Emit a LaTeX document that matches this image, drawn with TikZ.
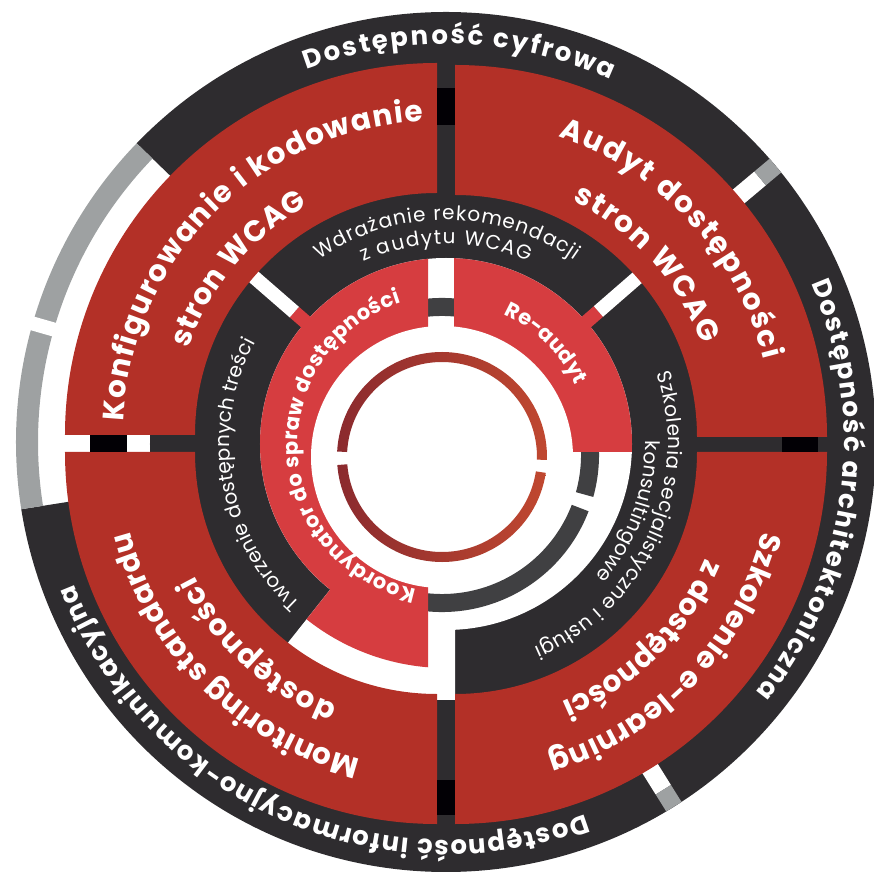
\documentclass[tikz,border=0pt]{standalone}
\usepackage{fontspec}
\setmainfont{Poppins}
\usetikzlibrary{decorations.text}
\definecolor{dk}{HTML}{2E2C2F}
\definecolor{rq}{HTML}{B33027}
\definecolor{lr}{HTML}{D63D40}
\definecolor{gy}{HTML}{9EA1A2}
\definecolor{bk}{HTML}{020005}
\definecolor{ig}{HTML}{404042}
\definecolor{gL}{HTML}{8B2A2E}
\definecolor{gR}{HTML}{C04830}
\newcommand\fOut{\fontsize{26}{30}\selectfont\bfseries}
\newcommand\fRed{\fontsize{29.5}{33}\selectfont\bfseries}
\newcommand\fMid{\fontsize{20}{24}\selectfont}
\newcommand\fIn{\fontsize{21}{24}\selectfont\bfseries}
\newcommand\sect[4]{(#1:#3) arc[start angle=#1,end angle=#2,radius=#3] -- (#2:#4) arc[start angle=#2,end angle=#1,radius=#4] -- cycle}
\newcommand\arctext[6]{\path[decorate,decoration={text along path,text align=fit to path,text color=white,text={|#5|#6}}] #1 ++(#3:#2) arc[start angle=#3,end angle=#4,radius=#2];}
\begin{document}
\begin{tikzpicture}[x=1pt,y=1pt]
\useasboundingbox (-446,-430) rectangle (427,444);
% outer dark ring
\fill[dk] (0,2) -- ++(136:430) arc[start angle=136,end angle=-171,radius=430] -- cycle;
\begin{scope}[shift={(0,2)}]
  \fill[gy] \sect{136}{189}{408}{430};
  \begin{scope}[rotate=164]\fill[white] (400,-7) rectangle (440,7);\end{scope}
  \foreach \a in {40,-58}{\begin{scope}[rotate=\a]
    \fill[white] (370,-9) rectangle (410,9);
    \fill[gy] (410,-9) rectangle (430,9);
  \end{scope}}
\end{scope}
% middle dark disc
\fill[dk] (0,0) circle[radius=296];
\fill[white] (0,0) circle[radius=186];
\fill[white] (0,0) -- (231.5:256) arc[start angle=231.5,end angle=268,radius=256] -- (9,-256) -- (9,0) -- cycle;
\foreach \a/\ri in {139/201,41/202}{\begin{scope}[rotate=\a]
  \fill[lr] (185,-7) rectangle (\ri,7);
  \fill[white] (\ri,-7) rectangle (262,7);
\end{scope}}
% red quadrants
\begin{scope}[shift={(-9,9)}]\fill[rq] \sect{90}{180}{242}{372};\end{scope}
\begin{scope}[shift={(9,7)}]\fill[rq] \sect{0}{90}{242}{372};\end{scope}
\begin{scope}[shift={(9,-8)}]\fill[rq] \sect{-90}{0}{242}{372};\end{scope}
\begin{scope}[shift={(-9,-8)}]\fill[rq] \sect{180}{270}{242}{372};\end{scope}
% black blocks
\fill[bk] (-9,319) rectangle (9,356);
\fill[bk] (336,-8) rectangle (372,7);
\fill[bk] (-9,-336) rectangle (9,-371);
\fill[bk] (-356,-8) rectangle (-319,9);
% inner grey ring
\begin{scope}[shift={(-4,-11)}]\fill[ig] \sect{-15.5}{339}{139}{157};\end{scope}
% Koordynator piece
\begin{scope}
  \clip (-500,-500) rectangle (-18,500);
  \fill[lr] (0,0) -- (90:186) arc[start angle=90,end angle=231.5,radius=186] -- (231.5:224) arc[start angle=231.5,end angle=270,radius=224] -- cycle;
\end{scope}
% Re-audyt piece
\begin{scope}
  \clip (8,-8) rectangle (300,300);
  \fill[lr] (0,0) circle[radius=186];
\end{scope}
\fill[white] (-4,-13) circle[radius=131];
% gradient ring
\begin{scope}[shift={(-4,-13)}]
  \shade[left color=gL,right color=gR] \sect{-1.6}{177}{95}{105};
  \shade[left color=gL,right color=gR] \sect{184.4}{351.3}{95}{105};
\end{scope}
% outer texts
\arctext{(0,2)}{398}{110.5}{65.5}{\fOut}{Dostępność cyfrowa}
\arctext{(0,2)}{398}{23.5}{-39}{\fOut}{Dostępność architektoniczna}
\arctext{(0,2)}{398}{-69.5}{-159}{\fOut}{Dostępność informacyjno-komunikacyjna}
% red texts
\arctext{(-9,9)}{314}{177.5}{92.5}{\fRed}{Konfigurowanie i kodowanie}
\arctext{(-9,9)}{263}{160.8}{119.4}{\fRed}{stron WCAG}
\arctext{(9,7)}{318}{71}{14}{\fRed}{Audyt dostępności}
\arctext{(9,7)}{264}{63.5}{20.5}{\fRed}{stron WCAG}
\arctext{(9,-8)}{318}{-14.5}{-73}{\fRed}{Szkolenie e-learning}
\arctext{(9,-8)}{272}{-23}{-66}{\fRed}{z dostępności}
\arctext{(-9,-8)}{317}{-104}{-165.5}{\fRed}{Monitoring standardu}
\arctext{(-9,-8)}{272}{-111.5}{-153}{\fRed}{dostępności}
% middle ring texts
\arctext{(0,0)}{224}{124.5}{55}{\fMid}{Wdrażanie rekomendacji}
\arctext{(0,0)}{200}{114.5}{65.5}{\fMid}{z audytu WCAG}
\arctext{(0,0)}{222}{18.5}{-66.5}{\fMid}{Szkolenia secjalistyczne i usługi}
\arctext{(0,0)}{199}{1}{-41.5}{\fMid}{konsultingowe}
\arctext{(0,0)}{216}{227.5}{152}{\fMid}{Tworzenie dostępnych treści}
% inner texts
\arctext{(0,0)}{148}{258.5}{107.5}{\fIn}{Koordynator do spraw dostępności}
\arctext{(0,0)}{142}{66}{25}{\fIn}{Re-audyt}
\end{tikzpicture}
\end{document}
